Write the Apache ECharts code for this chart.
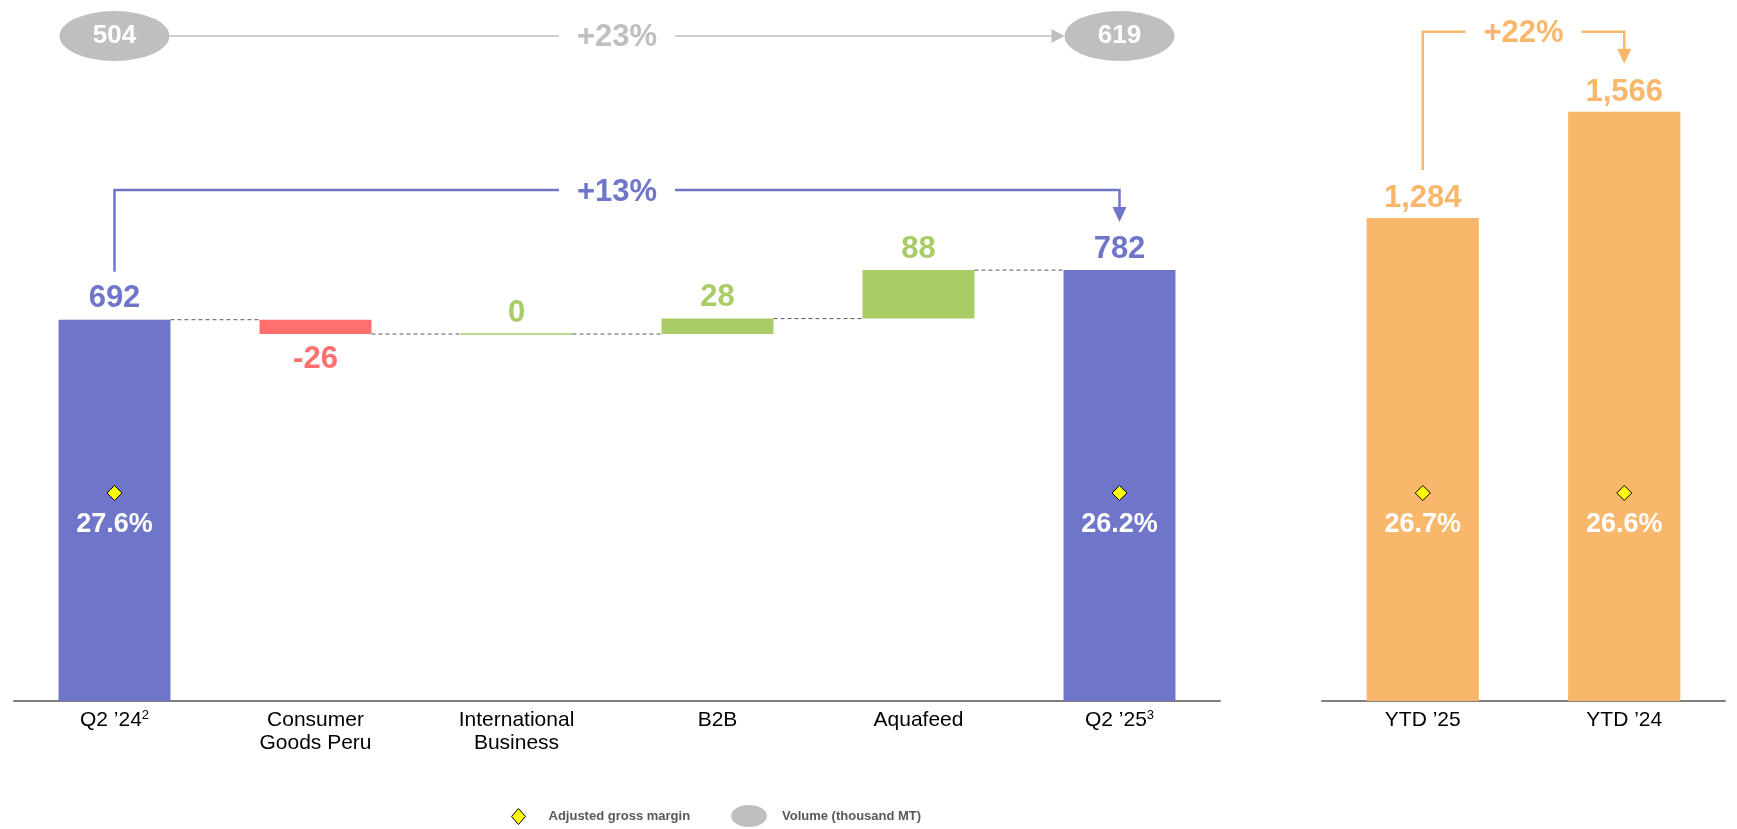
<!DOCTYPE html>
<html>
<head>
<meta charset="utf-8">
<script src="https://cdn.jsdelivr.net/npm/echarts@6/dist/echarts.min.js"></script>
<style>
html,body{margin:0;padding:0;background:#fff;}
#c{width:1737px;height:829px;}
</style>
</head>
<body>
<div id="c"></div>
<script>
// ---------- data ----------
const categories = ['Q2 \u201924', 'Consumer\nGoods Peru', 'International\nBusiness', 'B2B', 'Aquafeed', 'Q2 \u201925'];
const footnotes = ['2', '', '', '', '', '3'];
const changes = [692, -26, 0, 28, 88, 782];
const isTotal = [true, false, false, false, false, true];
const marginQ = [27.6, null, null, null, null, 26.2];
const volumeQ = [504, null, null, null, null, 619];
const volumeChangeLabel = '+23%';
const quarterChangeLabel = '+13%';

const ytdCategories = ['YTD \u201925', 'YTD \u201924'];
const ytdValues = [1284, 1566];
const ytdMargin = [26.7, 26.6];
const ytdChangeLabel = '+22%';

// ---------- styles ----------
const FONT = '"Liberation Sans", Arial, sans-serif';
const BLUE = '#6F76C9', RED = '#FF6F6F', GREEN = '#A9CC66', ORANGE = '#F8B76B', GRAY = '#BFBFBF';

// waterfall items [index, start, end, value]
const wfData = [];
let run = 0;
changes.forEach((v, i) => {
  if (isTotal[i]) { wfData.push([i, 0, v, v]); run = v; }
  else { wfData.push([i, run, run + v, v]); run += v; }
});

function txt(text, x, y, color, size) {
  return { type: 'text', x: x, y: y, style: { text: text, fill: color, fontSize: size, fontWeight: 'bold', fontFamily: FONT, align: 'center', verticalAlign: 'middle' } };
}

function renderWF(params, api) {
  const i = api.value(0), s = api.value(1), e = api.value(2), v = api.value(3);
  const hi = api.coord([i, Math.max(s, e)]);
  const lo = api.coord([i, Math.min(s, e)]);
  const band = api.size([1, 0])[0];
  const w = band * 0.557;
  const rawH = lo[1] - hi[1];
  const h = Math.max(rawH, 1.5);
  const color = isTotal[i] ? BLUE : (v < 0 ? RED : GREEN);
  const children = [{ type: 'rect', shape: { x: hi[0] - w / 2, y: rawH < 1.5 ? hi[1] - 0.75 : hi[1], width: w, height: h }, style: { fill: color } }];
  children.push(txt(String(v), hi[0], v < 0 ? lo[1] + 25 : hi[1] - 21, color, 31));
  if (i < changes.length - 1) {
    const y = api.coord([i, e])[1];
    children.push({ type: 'line', shape: { x1: hi[0] + w / 2, y1: y, x2: hi[0] + band - w / 2, y2: y }, style: { stroke: '#595959', lineWidth: 1, lineDash: [4, 3] } });
  }
  return { type: 'group', children: children };
}

function renderMargin(params, api) {
  const i = api.value(0), m = api.value(1);
  const base = api.coord([i, 0]);
  const x = base[0], yd = base[1] - 208;
  return {
    type: 'group', children: [
      { type: 'polygon', shape: { points: [[x, yd - 7.5], [x + 7.5, yd], [x, yd + 7.5], [x - 7.5, yd]] }, style: { fill: '#FFFF00', stroke: '#000', lineWidth: 1 } },
      txt(m.toFixed(1) + '%', x, base[1] - 176, '#FFFFFF', 27)
    ]
  };
}

function bracket(api, fromIdx, fromVal, toIdx, toVal, label, color) {
  const p0 = api.coord([fromIdx, fromVal]), p1 = api.coord([toIdx, toVal]);
  const topY = Math.min(p0[1], p1[1]) - 80;
  const x0 = p0[0], x1 = p1[0], mid = (x0 + x1) / 2, gap = 58;
  const st = { stroke: color, lineWidth: 2.5, fill: null };
  return {
    type: 'group', children: [
      { type: 'polyline', shape: { points: [[x0, p0[1] - 48], [x0, topY], [mid - gap, topY]] }, style: st },
      { type: 'polyline', shape: { points: [[mid + gap, topY], [x1, topY], [x1, p1[1] - 62]] }, style: st },
      { type: 'polygon', shape: { points: [[x1 - 7, p1[1] - 63], [x1 + 7, p1[1] - 63], [x1, p1[1] - 48]] }, style: { fill: color } },
      txt(label, mid, topY + 2, color, 31)
    ]
  };
}

const volData = volumeQ.map((v, i) => [i, v]).filter(d => d[1] != null);
const VOL_Y = 36, VOL_RX = 55, VOL_RY = 25;

function renderVolume(params, api) {
  const i = api.value(0), v = api.value(1);
  const x = api.coord([i, 0])[0];
  return {
    type: 'group', children: [
      { type: 'circle', x: x, y: VOL_Y, scaleY: VOL_RY / VOL_RX, shape: { cx: 0, cy: 0, r: VOL_RX }, style: { fill: GRAY } },
      txt(String(v), x, VOL_Y, '#FFFFFF', 26)
    ]
  };
}

function renderVolumeArrow(params, api) {
  const x0 = api.coord([volData[0][0], 0])[0] + VOL_RX;
  const x1 = api.coord([volData[volData.length - 1][0], 0])[0] - VOL_RX;
  const mid = (x0 + x1) / 2, gap = 58;
  const st = { stroke: GRAY, lineWidth: 1.5 };
  return {
    type: 'group', children: [
      { type: 'line', shape: { x1: x0, y1: VOL_Y, x2: mid - gap, y2: VOL_Y }, style: st },
      { type: 'line', shape: { x1: mid + gap, y1: VOL_Y, x2: x1 - 10, y2: VOL_Y }, style: st },
      { type: 'polygon', shape: { points: [[x1 - 13, VOL_Y - 7], [x1, VOL_Y], [x1 - 13, VOL_Y + 7]] }, style: { fill: GRAY } },
      txt(volumeChangeLabel, mid, VOL_Y + 1, GRAY, 31)
    ]
  };
}

const axisLabelBase = {
  interval: 0, margin: 8, fontSize: 21, lineHeight: 23, color: '#000', fontFamily: FONT,
  rich: { sup: { fontSize: 13, lineHeight: 13, verticalAlign: 'top', color: '#000', fontFamily: FONT } }
};

const option = {
  animation: false,
  backgroundColor: '#fff',
  grid: [
    { left: 14, width: 1206, top: 150, bottom: 128 },
    { left: 1322, width: 403, top: 99, bottom: 128 }
  ],
  xAxis: [
    {
      type: 'category', gridIndex: 0, data: categories,
      axisLine: { lineStyle: { color: '#808080', width: 2 } }, axisTick: { show: false },
      axisLabel: Object.assign({}, axisLabelBase, { formatter: (val, idx) => footnotes[idx] ? val + '{sup|' + footnotes[idx] + '}' : val })
    },
    {
      type: 'category', gridIndex: 1, data: ytdCategories,
      axisLine: { lineStyle: { color: '#808080', width: 2 } }, axisTick: { show: false },
      axisLabel: axisLabelBase
    }
  ],
  yAxis: [
    { type: 'value', gridIndex: 0, min: 0, max: 1000, show: false },
    { type: 'value', gridIndex: 1, min: 0, max: 1600, show: false }
  ],
  legend: [
    {
      data: [{ name: 'Adjusted gross margin', icon: 'path://M7,0L14,8L7,16L0,8Z', itemStyle: { color: '#FFFF00', borderColor: '#000', borderWidth: 1 } }],
      left: 506, top: 803, itemWidth: 50, itemHeight: 16, selectedMode: false,
      textStyle: { fontSize: 13, fontWeight: 'bold', color: '#595959', fontFamily: FONT }
    },
    {
      data: [{ name: 'Volume (thousand MT)', icon: 'path://M0,11A18,11,0,1,1,36,11A18,11,0,1,1,0,11Z', itemStyle: { color: GRAY, borderWidth: 0 } }],
      left: 726, top: 800, itemWidth: 56, itemHeight: 22, selectedMode: false,
      textStyle: { fontSize: 13, fontWeight: 'bold', color: '#595959', fontFamily: FONT }
    }
  ],
  series: [
    {
      name: 'Gross profit', type: 'custom', xAxisIndex: 0, yAxisIndex: 0, z: 2,
      data: wfData, encode: { x: 0, y: [1, 2] }, renderItem: renderWF
    },
    {
      name: 'Gross profit YTD', type: 'bar', xAxisIndex: 1, yAxisIndex: 1, z: 2,
      data: ytdValues, barWidth: '55.7%', itemStyle: { color: ORANGE },
      label: { show: true, position: 'top', distance: 4, color: ORANGE, fontSize: 31, fontWeight: 'bold', fontFamily: FONT,
        formatter: p => p.value.toLocaleString('en-US') }
    },
    {
      name: 'Adjusted gross margin', type: 'custom', xAxisIndex: 0, yAxisIndex: 0, z: 5,
      data: marginQ.map((m, i) => [i, m]).filter(d => d[1] != null), renderItem: renderMargin
    },
    {
      name: 'Adjusted gross margin', type: 'custom', xAxisIndex: 1, yAxisIndex: 1, z: 5,
      data: ytdMargin.map((m, i) => [i, m]), renderItem: renderMargin
    },
    {
      name: 'Volume (thousand MT)', type: 'custom', xAxisIndex: 0, yAxisIndex: 0, z: 5,
      data: volData, renderItem: renderVolume
    },
    {
      name: 'volumeArrow', type: 'custom', xAxisIndex: 0, yAxisIndex: 0, z: 4,
      data: [[0, 0]], renderItem: renderVolumeArrow
    },
    {
      name: 'quarterBracket', type: 'custom', xAxisIndex: 0, yAxisIndex: 0, z: 4,
      data: [[0, 0]],
      renderItem: (params, api) => bracket(api, 0, wfData[0][2], changes.length - 1, wfData[changes.length - 1][2], quarterChangeLabel, BLUE)
    },
    {
      name: 'ytdBracket', type: 'custom', xAxisIndex: 1, yAxisIndex: 1, z: 4,
      data: [[0, 0]],
      renderItem: (params, api) => bracket(api, 0, ytdValues[0], 1, ytdValues[1], ytdChangeLabel, ORANGE)
    }
  ]
};

const chart = echarts.init(document.getElementById('c'), null, { renderer: 'canvas' });
chart.setOption(option);
</script>
</body>
</html>
